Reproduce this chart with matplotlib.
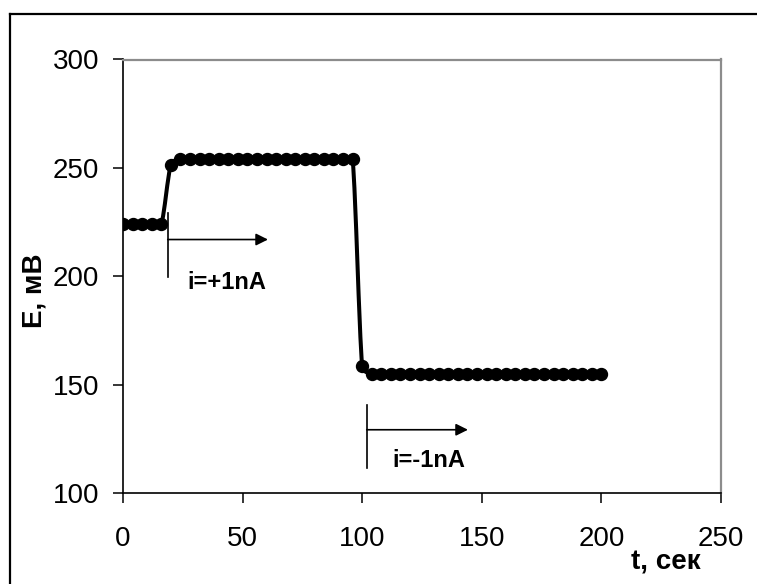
import matplotlib
matplotlib.use('Agg')
import matplotlib.pyplot as plt
from matplotlib.path import Path
from matplotlib.patches import PathPatch
from matplotlib.lines import Line2D
import numpy as np

plt.rcParams['font.family'] = ['Liberation Sans', 'DejaVu Sans']

# measured points: t (s), E (mV)
t = [0, 4, 8, 12, 16, 20,
     24, 28, 32, 36, 40, 44, 48, 52, 56, 60, 64, 68, 72, 76, 80, 84, 88, 92, 96,
     100,
     104, 108, 112, 116, 120, 124, 128, 132, 136, 140, 144, 148, 152, 156, 160,
     164, 168, 172, 176, 180, 184, 188, 192, 196, 200]
E = [224, 224, 224, 224, 224, 251.5,
     254, 254, 254, 254, 254, 254, 254, 254, 254, 254, 254, 254, 254, 254, 254, 254, 254, 254, 254,
     158.5,
     155, 155, 155, 155, 155, 155, 155, 155, 155, 155, 155, 155, 155, 155, 155,
     155, 155, 155, 155, 155, 155, 155, 155, 155, 155]

xticks = [0, 50, 100, 150, 200, 250]
yticks = [100, 150, 200, 250, 300]

# current steps: label, start time, arrow end, arrow level, bar bottom/top, label pos
steps = [('i=+1nA', 18.7, 60.6, 217, 199.5, 229, 43.5, 197),
         ('i=-1nA', 101.9, 144.2, 129.3, 111.7, 140.7, 128, 115)]

W, H = 757, 584
fig = plt.figure(figsize=(W / 100, H / 100), dpi=100)
ax = fig.add_axes([123 / W, 1 - 493.3 / H, (721 - 123) / W, (493.3 - 59.5) / H])

# smooth line through the points (bezier, kept from overshooting)
pts = np.column_stack([t, E]).astype(float)
n = len(pts)
verts = [pts[0]]
codes = [Path.MOVETO]
for i in range(n - 1):
    p0 = pts[i - 1] if i > 0 else pts[i]
    p1 = pts[i]
    p2 = pts[i + 1]
    p3 = pts[i + 2] if i + 2 < n else pts[i + 1]
    c1 = p1 + (p2 - p0) / 6
    c2 = p2 - (p3 - p1) / 6
    lo, hi = min(p1[1], p2[1]), max(p1[1], p2[1])
    c1[1] = np.clip(c1[1], lo, hi)
    c2[1] = np.clip(c2[1], lo, hi)
    verts += [c1, c2, p2]
    codes += [Path.CURVE4] * 3
ax.add_patch(PathPatch(Path(verts, codes), fill=False, lw=2.9, ec='black',
                       transform=ax.transData, zorder=3))
ax.plot(t, E, ls='none', marker='o', ms=8.6, color='black', zorder=4)

for lab, t0, t1, lvl, yb, yt, tx, ty in steps:
    ax.plot([t0, t0], [yb, yt], color='black', lw=1.2)
    ax.annotate('', xy=(t1, lvl), xytext=(t0, lvl),
                arrowprops=dict(arrowstyle='-|>', color='black', lw=1.2,
                                mutation_scale=18, shrinkA=0, shrinkB=0))
    ax.text(tx, ty, lab, fontsize=17, fontweight='bold', ha='center', va='center')

ax.set_xlim(0, 250)
ax.set_ylim(100, 300)
ax.set_xticks(xticks)
ax.set_yticks(yticks)
ax.tick_params(direction='out', length=7.2, width=1.1, labelsize=20, color='black')
ax.tick_params(axis='x', pad=16)
ax.tick_params(axis='y', pad=10)
for s in ['left', 'bottom']:
    ax.spines[s].set_color('black')
    ax.spines[s].set_linewidth(1.2)
for s in ['top', 'right']:
    ax.spines[s].set_color('#8c8c8c')
    ax.spines[s].set_linewidth(1.6)

fig.text(35 / W, 1 - 291 / H, 'E, мВ', rotation=90, fontsize=20, fontweight='bold',
         ha='center', va='center')
fig.text(666 / W, 1 - 562 / H, 't, сек', fontsize=20, fontweight='bold',
         ha='center', va='center')

# outer frame
fig.add_artist(Line2D([10 / W, 10 / W], [0, 1 - 14.3 / H], color='black', lw=1.6))
fig.add_artist(Line2D([10 / W, 1], [1 - 14.3 / H, 1 - 14.3 / H], color='black', lw=1.6))

fig.savefig('out.png', dpi=100)
